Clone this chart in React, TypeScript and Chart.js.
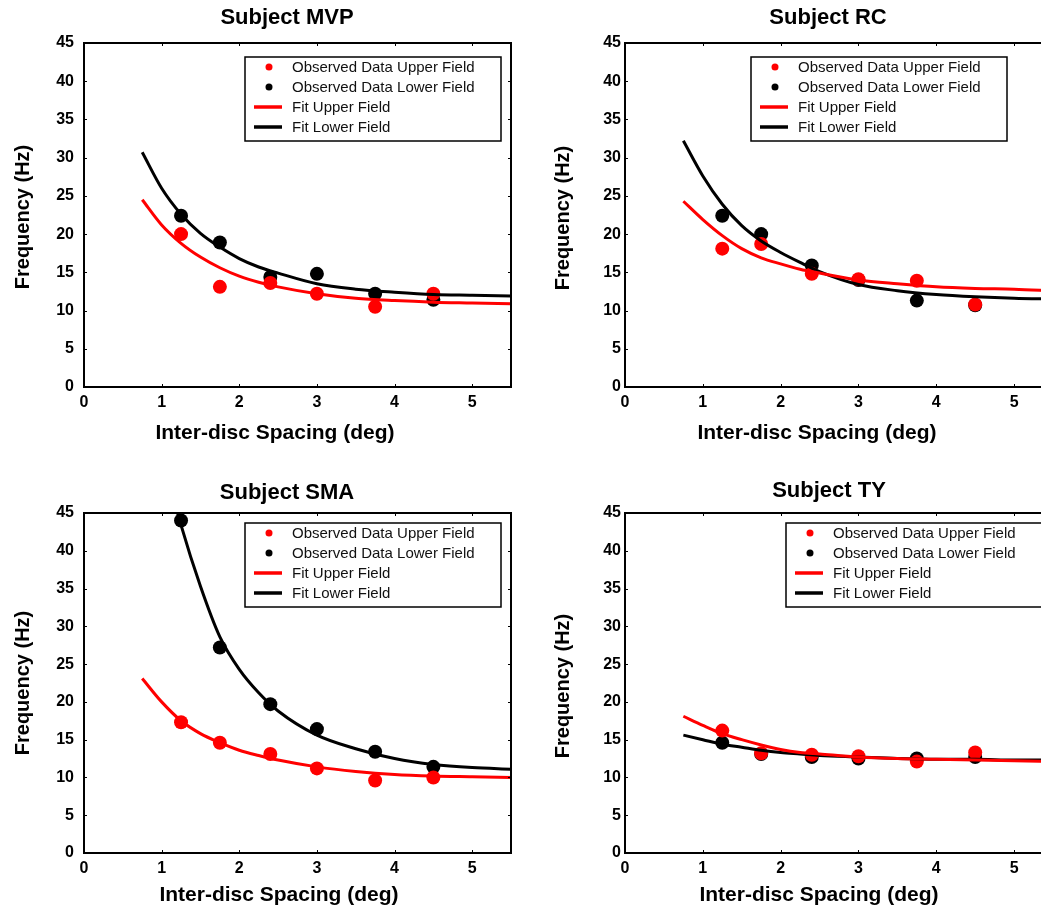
import React, { useEffect, useRef } from "react";
import { Chart, registerables } from "chart.js";

Chart.register(...registerables);

// ---------- data ----------
const xObserved = [1.25, 1.75, 2.4, 3, 3.75, 4.5];
const xFit = [0.75, 1, 1.25, 1.5, 1.75, 2, 2.25, 2.5, 3, 3.5, 4, 4.5, 5, 5.5];
const xTicks = [0, 1, 2, 3, 4, 5];
const yTicks = [0, 5, 10, 15, 20, 25, 30, 35, 40, 45];
const legendLabels = [
  "Observed Data Upper Field",
  "Observed Data Lower Field",
  "Fit Upper Field",
  "Fit Lower Field",
];
const xAxisTitle = "Inter-disc Spacing (deg)";
const yAxisTitle = "Frequency (Hz)";

const mvpUpperObs = [20.0, 13.1, 13.6, 12.2, 10.5, 12.2];
const mvpLowerObs = [22.4, 18.9, 14.4, 14.8, 12.2, 11.4];
const mvpUpperFit = [24.5, 21.2, 18.8, 17.0, 15.6, 14.5, 13.7, 13.1, 12.2, 11.6, 11.3, 11.1, 11.0, 10.9];
const mvpLowerFit = [30.7, 26.0, 22.6, 20.1, 18.3, 16.8, 15.7, 14.9, 13.5, 12.8, 12.4, 12.1, 12.0, 11.9];

const rcUpperObs = [18.1, 18.7, 14.8, 14.1, 13.9, 10.8];
const rcLowerObs = [22.4, 20.0, 15.9, 14.0, 11.3, 10.7];
const rcUpperFit = [24.3, 21.9, 19.8, 18.1, 16.9, 16.1, 15.4, 14.9, 14.0, 13.5, 13.1, 12.9, 12.8, 12.6];
const rcLowerFit = [32.2, 27.6, 23.9, 21.1, 19.1, 17.6, 16.3, 15.1, 13.4, 12.6, 12.1, 11.8, 11.6, 11.5];

const smaUpperObs = [17.3, 14.6, 13.1, 11.2, 9.6, 10.0];
const smaLowerObs = [44.0, 27.2, 19.7, 16.4, 13.4, 11.4];
const smaUpperFit = [23.1, 20.0, 17.5, 15.8, 14.6, 13.6, 12.9, 12.3, 11.4, 10.8, 10.4, 10.2, 10.1, 10.0];
const smaLowerFit = [66.0, 53.0, 43.4, 35.3, 28.6, 24.3, 21.2, 18.8, 15.6, 13.8, 12.5, 11.7, 11.3, 11.1];

const tyUpperObs = [16.2, 13.2, 13.0, 12.8, 12.1, 13.3];
const tyLowerObs = [14.6, 13.1, 12.7, 12.5, 12.5, 12.7];
const tyUpperFit = [18.1, 16.9, 15.8, 15.0, 14.3, 13.7, 13.3, 13.1, 12.7, 12.5, 12.4, 12.3, 12.2, 12.1];
const tyLowerFit = [15.6, 15.0, 14.4, 14.0, 13.6, 13.3, 13.1, 12.9, 12.7, 12.5, 12.4, 12.4, 12.3, 12.3];

// ---------- styles ----------
const RED = "#ff0000";
const BLACK = "#000000";
const FONT = '"Liberation Sans", Arial, Helvetica, sans-serif';

Chart.defaults.font.family = FONT;

const toPts = (xs: number[], ys: number[]) => xs.map((x, i) => ({ x, y: ys[i] }));

// frame with inward ticks
const framePlugin = {
  id: "frame",
  afterDatasetsDraw(chart: any) {
    const { ctx, chartArea, scales } = chart;
    const { left, right, top, bottom } = chartArea;
    ctx.save();
    ctx.strokeStyle = BLACK;
    ctx.lineWidth = 1;
    const tl = 3;
    scales.x.ticks.forEach((t: any) => {
      const px = Math.round(scales.x.getPixelForValue(t.value)) + 0.5;
      ctx.beginPath();
      ctx.moveTo(px, bottom);
      ctx.lineTo(px, bottom - tl);
      ctx.moveTo(px, top);
      ctx.lineTo(px, top + tl);
      ctx.stroke();
    });
    scales.y.ticks.forEach((t: any) => {
      const py = Math.round(scales.y.getPixelForValue(t.value)) + 0.5;
      ctx.beginPath();
      ctx.moveTo(left, py);
      ctx.lineTo(left + tl, py);
      ctx.moveTo(right, py);
      ctx.lineTo(right - tl, py);
      ctx.stroke();
    });
    ctx.lineWidth = 2;
    ctx.strokeRect(left, top, right - left, bottom - top);
    ctx.restore();
  },
};

// text titles (main, x axis, y axis)
const textPlugin = {
  id: "texts",
  afterDraw(chart: any, _args: any, opts: any) {
    const { ctx } = chart;
    ctx.save();
    ctx.fillStyle = BLACK;
    ctx.textAlign = "center";
    ctx.textBaseline = "middle";
    ctx.font = `bold 22px ${FONT}`;
    ctx.fillText(opts.title, opts.tx, opts.ty);
    ctx.font = `bold 21px ${FONT}`;
    ctx.fillText(xAxisTitle, opts.xx, opts.xy);
    ctx.translate(opts.yx, opts.yy);
    ctx.rotate(-Math.PI / 2);
    ctx.font = `bold 20px ${FONT}`;
    ctx.fillText(yAxisTitle, 0, 0);
    ctx.restore();
  },
};

// boxed legend inside plot
const boxLegendPlugin = {
  id: "boxLegend",
  afterDraw(chart: any, _args: any, opts: any) {
    const { ctx } = chart;
    const { x, y, w, h } = opts;
    ctx.save();
    ctx.fillStyle = "#ffffff";
    ctx.fillRect(x, y, w, h);
    ctx.strokeStyle = BLACK;
    ctx.lineWidth = 1.5;
    ctx.strokeRect(x, y, w, h);
    const kinds = ["dot", "dot", "line", "line"];
    const colors = [RED, BLACK, RED, BLACK];
    legendLabels.forEach((label, i) => {
      const ry = y + 10 + i * 20;
      if (kinds[i] === "dot") {
        ctx.fillStyle = colors[i];
        ctx.beginPath();
        ctx.arc(x + 24, ry, 3.5, 0, Math.PI * 2);
        ctx.fill();
      } else {
        ctx.strokeStyle = colors[i];
        ctx.lineWidth = 3.5;
        ctx.beginPath();
        ctx.moveTo(x + 9, ry);
        ctx.lineTo(x + 37, ry);
        ctx.stroke();
      }
      ctx.fillStyle = "#111";
      ctx.font = `15px ${FONT}`;
      ctx.textAlign = "left";
      ctx.textBaseline = "middle";
      ctx.fillText(label, x + 47, ry + 1);
    });
    ctx.restore();
  },
};

type Layout = {
  left: number;
  top: number;
  w: number;
  h: number;
  yW: number;
  xH: number;
  padRight: number;
  yTickPad: number;
  title: [number, number];
  xTitle: [number, number];
  yTitle: [number, number];
  legend: [number, number];
};

function SubPlot(props: {
  title: string;
  upperObs: number[];
  lowerObs: number[];
  upperFit: number[];
  lowerFit: number[];
  lay: Layout;
}) {
  const ref = useRef<HTMLCanvasElement | null>(null);
  const { title, upperObs, lowerObs, upperFit, lowerFit, lay } = props;

  useEffect(() => {
    if (!ref.current) return;
    const chart = new Chart(ref.current, {
      type: "scatter",
      data: {
        datasets: [
          {
            label: legendLabels[0],
            data: toPts(xObserved, upperObs),
            backgroundColor: RED,
            borderColor: RED,
            pointRadius: 7,
            pointBorderWidth: 0,
            showLine: false,
            order: 2,
          },
          {
            label: legendLabels[1],
            data: toPts(xObserved, lowerObs),
            backgroundColor: BLACK,
            borderColor: BLACK,
            pointRadius: 7,
            pointBorderWidth: 0,
            showLine: false,
            order: 3,
          },
          {
            label: legendLabels[2],
            data: toPts(xFit, upperFit),
            borderColor: RED,
            backgroundColor: RED,
            borderWidth: 3,
            pointRadius: 0,
            showLine: true,
            cubicInterpolationMode: "monotone",
            order: 0,
          },
          {
            label: legendLabels[3],
            data: toPts(xFit, lowerFit),
            borderColor: BLACK,
            backgroundColor: BLACK,
            borderWidth: 3,
            pointRadius: 0,
            showLine: true,
            cubicInterpolationMode: "monotone",
            order: 1,
          },
        ],
      } as any,
      options: {
        animation: false,
        responsive: false,
        devicePixelRatio: 1,
        layout: { padding: { top: 43, right: lay.padRight, left: 0, bottom: 0 } },
        plugins: {
          legend: { display: false },
          tooltip: { enabled: false },
          texts: {
            title,
            tx: lay.title[0],
            ty: lay.title[1],
            xx: lay.xTitle[0],
            xy: lay.xTitle[1],
            yx: lay.yTitle[0],
            yy: lay.yTitle[1],
          },
          boxLegend: { x: lay.legend[0], y: lay.legend[1], w: 256, h: 84 },
        } as any,
        scales: {
          x: {
            type: "linear",
            min: 0,
            max: 5.5,
            grid: { display: false, drawTicks: false, tickLength: 0 },
            border: { display: false },
            afterBuildTicks: (s: any) => {
              s.ticks = xTicks.map((v) => ({ value: v }));
            },
            afterFit: (s: any) => {
              s.height = lay.xH;
            },
            ticks: {
              padding: 6,
              color: BLACK,
              maxRotation: 0,
              autoSkip: false,
              font: { size: 16, weight: "bold" },
            },
          },
          y: {
            type: "linear",
            min: 0,
            max: 45,
            grid: { display: false, drawTicks: false, tickLength: 0 },
            border: { display: false },
            afterBuildTicks: (s: any) => {
              s.ticks = yTicks.map((v) => ({ value: v }));
            },
            afterFit: (s: any) => {
              s.width = lay.yW;
            },
            ticks: {
              padding: lay.yTickPad,
              color: BLACK,
              autoSkip: false,
              font: { size: 16, weight: "bold" },
            },
          },
        },
      } as any,
      plugins: [framePlugin, textPlugin, boxLegendPlugin],
    });
    return () => chart.destroy();
  }, []);

  return (
    <canvas
      ref={ref}
      width={lay.w}
      height={lay.h}
      style={{ position: "absolute", left: lay.left, top: lay.top, width: lay.w, height: lay.h }}
    />
  );
}

const layMVP: Layout = {
  left: 0, top: 0, w: 520, h: 450, yW: 84, xH: 63, padRight: 9, yTickPad: 10,
  title: [287, 18], xTitle: [275, 433], yTitle: [23, 217], legend: [245, 57],
};
const layRC: Layout = {
  left: 520, top: 0, w: 541, h: 450, yW: 105, xH: 63, padRight: 8, yTickPad: 4,
  title: [308, 18], xTitle: [297, 433], yTitle: [43, 218], legend: [231, 57],
};
const laySMA: Layout = {
  left: 0, top: 470, w: 520, h: 439, yW: 84, xH: 56, padRight: 9, yTickPad: 10,
  title: [287, 23], xTitle: [279, 425], yTitle: [23, 213], legend: [245, 53],
};
const layTY: Layout = {
  left: 520, top: 470, w: 541, h: 439, yW: 105, xH: 56, padRight: 8, yTickPad: 4,
  title: [309, 21], xTitle: [299, 425], yTitle: [43, 216], legend: [266, 53],
};

export default function App() {
  return (
    <div
      style={{
        position: "fixed",
        left: 0,
        top: 0,
        width: 1041,
        height: 909,
        overflow: "hidden",
        background: "#ffffff",
      }}
    >
      <SubPlot title="Subject MVP" upperObs={mvpUpperObs} lowerObs={mvpLowerObs} upperFit={mvpUpperFit} lowerFit={mvpLowerFit} lay={layMVP} />
      <SubPlot title="Subject RC" upperObs={rcUpperObs} lowerObs={rcLowerObs} upperFit={rcUpperFit} lowerFit={rcLowerFit} lay={layRC} />
      <SubPlot title="Subject SMA" upperObs={smaUpperObs} lowerObs={smaLowerObs} upperFit={smaUpperFit} lowerFit={smaLowerFit} lay={laySMA} />
      <SubPlot title="Subject TY" upperObs={tyUpperObs} lowerObs={tyLowerObs} upperFit={tyUpperFit} lowerFit={tyLowerFit} lay={layTY} />
    </div>
  );
}
